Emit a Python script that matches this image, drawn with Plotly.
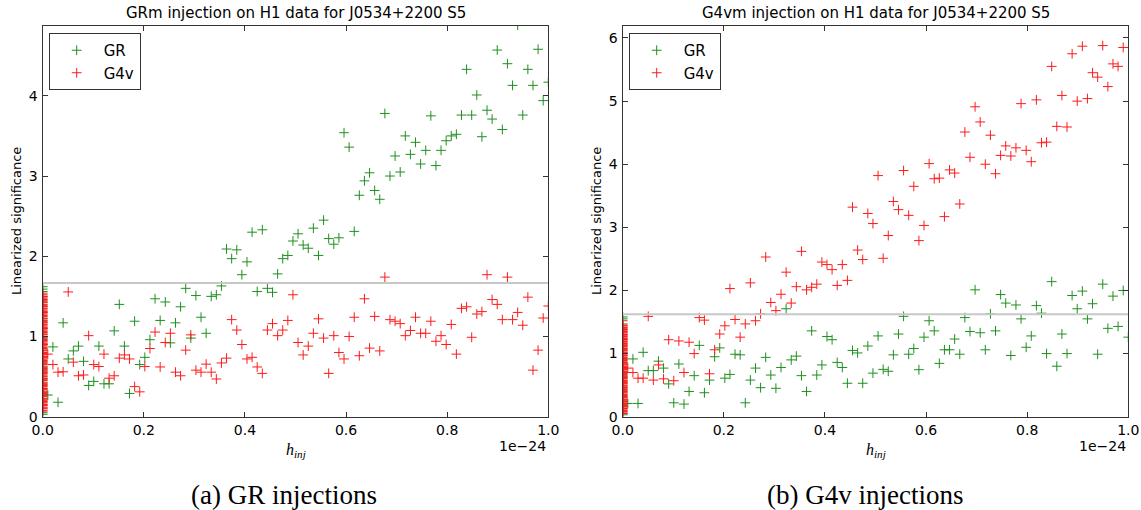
import plotly.graph_objects as go

# Injected amplitude h_inj in units of 1e-24: step k/99 for k = 1..N;
# noise-only runs sit at h_inj = 0.
N_STEPS = 99

# ---- (a) GR injections ----
gr_inj_gr = [0.27, 0.87, 0.18, 1.17, 0.72, 0.82, 0.88, 0.69, 0.39, 0.44,
             0.88, 0.41, 0.41, 1.07, 1.40, 0.88, 0.29, 1.19, 0.65, 0.74,
             0.96, 1.47, 1.20, 1.43, 0.92, 1.17, 1.37, 1.60, 0.98, 1.51,
             1.24, 1.04, 1.50, 1.52, 1.63, 2.09, 1.97, 2.08, 1.77, 1.93,
             2.30, 1.56, 2.33, 1.60, 1.55, 1.78, 1.97, 2.01, 2.19, 2.28,
             2.14, 2.10, 2.35, 2.01, 2.45, 2.22, 2.15, 2.23, 3.54, 3.36,
             2.31, 2.76, 2.94, 3.04, 2.82, 2.71, 3.78, 3.00, 3.25, 3.05,
             3.50, 3.27, 3.42, 3.15, 3.32, 3.75, 3.13, 3.32, 3.44, 3.50,
             3.52, 3.76, 4.33, 3.76, 4.01, 3.49, 3.82, 3.71, 4.57, 3.58,
             4.40, 4.13, 4.88, 3.76, 4.33, 4.13, 4.58, 3.94, 4.17]
gr_inj_g4v = [0.78, 0.65, 0.555, 0.56, 1.555, 0.68, 0.51, 0.52, 1.01, 0.65,
              0.625, 0.78, 0.48, 0.51, 0.73, 0.77, 0.72, 0.375, 0.31, 0.625,
              0.85, 1.055, 0.62, 0.925, 1.04, 0.555, 0.51, 0.83, 1.02, 0.58,
              0.555, 0.655, 0.555, 0.47, 0.67, 0.73, 1.21, 1.08, 0.90, 0.72,
              0.74, 0.62, 0.54, 1.08, 1.16, 1.01, 1.08, 1.20, 1.52, 0.925,
              0.77, 0.88, 1.04, 1.22, 0.98, 0.54, 1.01, 0.80, 0.72, 1.00,
              1.24, 0.76, 1.47, 0.855, 1.25, 0.82, 1.74, 1.21, 1.19, 1.16,
              1.01, 1.075, 1.24, 1.04, 1.04, 1.19, 0.94, 1.01, 0.90, 1.15,
              0.78, 1.35, 1.37, 0.99, 1.28, 1.31, 1.77, 1.46, 1.40, 1.21,
              1.74, 1.21, 1.30, 1.14, 1.49, 0.58, 0.83, 1.23, 1.38]
gr_noise_gr = [0.03, 0.05, 0.15, 0.22, 0.28, 0.35, 0.41, 0.48, 0.56, 0.61,
               0.69, 0.75, 0.83, 0.90, 0.96, 1.03, 1.10, 1.17, 1.22, 1.30,
               1.37, 1.43, 1.50, 1.56, 1.59, 1.62]
gr_noise_g4v = [0.07, 0.08, 0.10, 0.11, 0.12, 0.14, 0.15, 0.17, 0.18, 0.19,
                0.20, 0.22, 0.23, 0.25, 0.26, 0.27, 0.29, 0.30, 0.31, 0.32,
                0.34, 0.35, 0.37, 0.38, 0.39, 0.40, 0.42, 0.43, 0.45, 0.46,
                0.47, 0.48, 0.50, 0.51, 0.53, 0.54, 0.55, 0.57, 0.58, 0.59,
                0.60, 0.62, 0.63, 0.65, 0.66, 0.67, 0.68, 0.70, 0.71, 0.73,
                0.74, 0.75, 0.77, 0.78, 0.79, 0.80, 0.82, 0.83, 0.85, 0.86,
                0.87, 0.89, 0.90, 0.91, 0.92, 0.94, 0.95, 0.97, 0.98, 0.99,
                1.00, 1.02, 1.03, 1.05, 1.06, 1.07, 1.09, 1.10, 1.11, 1.12,
                1.14, 1.15, 1.17, 1.18, 1.19, 1.20, 1.22, 1.23, 1.25, 1.26,
                1.27, 1.29, 1.30, 1.31, 1.32, 1.34, 1.35, 1.37, 1.38, 1.39,
                1.40, 1.42, 1.43, 1.45, 1.46, 1.47, 1.49, 1.50, 1.52, 1.54]
gr_threshold = 1.667

# ---- (b) G4v injections ----
g4v_inj_gr = [0.21, 0.915, 0.21, 1.02, 0.73, 0.73, 0.88, 0.77, 0.52, 0.22,
              0.835, 0.20, 0.40, 0.65, 1.13, 0.38, 0.58, 0.95, 1.09, 0.61,
              0.67, 0.99, 0.98, 0.22, 0.58, 0.77, 0.46, 0.94, 0.66, 0.45,
              0.78, 1.71, 0.90, 0.96, 0.65, 0.40, 1.36, 0.66, 0.82, 1.27,
              1.22, 0.86, 0.78, 0.53, 1.05, 1.01, 0.53, 1.12, 0.69, 1.28,
              0.75, 0.72, 0.98, 1.31, 1.59, 0.99, 1.08, 0.745, 1.26, 1.52,
              1.36, 0.845, 1.06, 1.06, 1.23, 0.99, 1.57, 1.35, 2.01, 1.33,
              1.06, 1.63, 1.36, 1.935, 1.80, 0.97, 1.77, 1.55, 1.10, 1.28,
              1.76, 1.64, 1.00, 2.14, 0.80, 1.31, 1.00, 1.92, 1.71, 1.99,
              1.55, 1.79, 0.99, 2.10, 1.40, 1.91, 1.43, 2.00, 1.26]
g4v_inj_g4v = [0.77, 0.70, 0.61, 0.61, 1.59, 0.58, 0.82, 0.60, 1.22, 0.57,
               1.20, 0.70, 1.18, 1.00, 1.57, 1.53, 0.68, 1.06, 1.31, 1.44,
               2.03, 1.54, 1.26, 1.47, 2.12, 1.52, 1.63, 2.53, 1.81, 1.68,
               1.94, 2.29, 1.80, 2.06, 2.62, 2.01, 2.05, 2.10, 2.45, 2.41,
               2.33, 2.08, 2.41, 2.16, 3.32, 2.64, 2.49, 3.22, 3.06, 3.82,
               2.51, 2.87, 3.41, 3.28, 3.90, 3.19, 3.65, 2.79, 3.03, 4.01,
               3.77, 3.78, 3.17, 3.91, 3.86, 3.37, 4.51, 4.11, 4.91, 4.67,
               4.00, 4.46, 3.85, 4.14, 4.29, 4.13, 4.26, 4.96, 4.22, 4.04,
               5.02, 4.34, 4.35, 5.55, 4.60, 5.09, 4.59, 5.75, 5.00, 5.87,
               5.04, 5.45, 5.38, 5.88, 5.23, 5.59, 5.55, 5.85]
g4v_noise_gr = [0.03, 0.05, 0.18, 0.25, 0.33, 0.40, 0.47, 0.55, 0.62, 0.70,
                0.77, 0.85, 0.92, 1.00, 1.07, 1.15, 1.22, 1.30, 1.38, 1.47,
                1.55, 1.58]
g4v_noise_g4v = [0.05, 0.06, 0.08, 0.09, 0.10, 0.12, 0.13, 0.14, 0.16, 0.17,
                 0.19, 0.20, 0.21, 0.23, 0.24, 0.25, 0.27, 0.28, 0.30, 0.31,
                 0.32, 0.34, 0.35, 0.36, 0.38, 0.39, 0.41, 0.42, 0.43, 0.45,
                 0.46, 0.47, 0.49, 0.50, 0.52, 0.53, 0.54, 0.56, 0.57, 0.58,
                 0.60, 0.61, 0.63, 0.64, 0.65, 0.67, 0.68, 0.69, 0.71, 0.72,
                 0.74, 0.75, 0.76, 0.78, 0.79, 0.80, 0.82, 0.83, 0.85, 0.86,
                 0.87, 0.89, 0.90, 0.91, 0.93, 0.94, 0.96, 0.97, 0.98, 1.00,
                 1.01, 1.02, 1.04, 1.05, 1.07, 1.08, 1.09, 1.11, 1.12, 1.13,
                 1.15, 1.16, 1.18, 1.19, 1.20, 1.22, 1.23, 1.24, 1.26, 1.27,
                 1.29, 1.30, 1.31, 1.33, 1.34, 1.35, 1.37, 1.38, 1.40, 1.41,
                 1.42, 1.44, 1.45, 1.52]
g4v_threshold = 1.625

x_ticks = [0.0, 0.2, 0.4, 0.6, 0.8, 1.0]
x_tick_text = ["0.0", "0.2", "0.4", "0.6", "0.8", "1.0"]
y_ticks_a = [0, 1, 2, 3, 4]
y_ticks_b = [0, 1, 2, 3, 4, 5, 6]
y_top_a = 4.87
y_top_b = 6.19

panel_titles = ["GRm injection on H1 data for J0534+2200 S5",
                "G4vm injection on H1 data for J0534+2200 S5"]
captions = ["(a) GR injections", "(b) G4v injections"]

GREEN = "#1f8f1f"
RED = "#ff1a1a"
SANS = "DejaVu Sans"
W, H = 1141, 510


def column(inj, noise):
    """x/y for one template: noise-only runs at 0, then the injection ladder."""
    xs = [0.0] * len(noise) + [k / N_STEPS for k in range(1, len(inj) + 1)]
    ys = list(noise) + list(inj)
    return xs, ys


fig = go.Figure()

panels = [
    ("x", "y", "legend", gr_inj_gr, gr_noise_gr, gr_inj_g4v, gr_noise_g4v, gr_threshold),
    ("x2", "y2", "legend2", g4v_inj_gr, g4v_noise_gr, g4v_inj_g4v, g4v_noise_g4v, g4v_threshold),
]

for xa, ya, leg, inj_gr, noise_gr, inj_g4v, noise_g4v, thr in panels:
    for name, inj, noise, col in (("GR", inj_gr, noise_gr, GREEN),
                                  ("G4v", inj_g4v, noise_g4v, RED)):
        xs, ys = column(inj, noise)
        fig.add_trace(go.Scatter(
            x=xs, y=ys, mode="markers", name=name, legend=leg,
            xaxis=xa, yaxis=ya,
            marker=dict(symbol="cross-thin", size=7, color=col,
                        line=dict(color=col, width=1)),
        ))
    # detection threshold drawn over the points
    fig.add_trace(go.Scatter(
        x=[0, 1], y=[thr, thr], mode="lines", showlegend=False,
        xaxis=xa, yaxis=ya, hoverinfo="skip",
        line=dict(color="#c8c8c8", width=2),
    ))

# plot-area geometry in pixels
AX_A = (42.7, 548.3)
AX_B = (622.7, 1128.3)
AX_TOP, AX_BOT = 26.0, 416.7
yd = [1 - AX_BOT / H, 1 - AX_TOP / H]

axis_common = dict(
    showline=True, linecolor="#333333", linewidth=1.3, mirror="ticks",
    ticks="inside", ticklen=5, tickwidth=1, tickcolor="#333333",
    showgrid=False, zeroline=False, automargin=False,
    tickfont=dict(family=SANS, size=14, color="black"),
)

fig.update_layout(
    width=W, height=H, margin=dict(l=0, r=0, t=0, b=0),
    paper_bgcolor="white", plot_bgcolor="white",
    xaxis=dict(domain=[AX_A[0] / W, AX_A[1] / W], range=[0, 1],
               tickvals=x_ticks, ticktext=x_tick_text, anchor="y",
               ticklabelstandoff=0, **axis_common),
    yaxis=dict(domain=yd, range=[0, y_top_a], tickvals=y_ticks_a,
               anchor="x", ticklabelstandoff=1, **axis_common),
    xaxis2=dict(domain=[AX_B[0] / W, AX_B[1] / W], range=[0, 1],
                tickvals=x_ticks, ticktext=x_tick_text, anchor="y2",
                ticklabelstandoff=0, **axis_common),
    yaxis2=dict(domain=yd, range=[0, y_top_b], tickvals=y_ticks_b,
                anchor="x2", ticklabelstandoff=1, **axis_common),
    showlegend=True,
)

legend_style = dict(
    xanchor="left", yanchor="top", bgcolor="white",
    bordercolor="#333333", borderwidth=1,
    font=dict(family=SANS, size=15, color="black"),
    itemsizing="trace", tracegroupgap=0, itemwidth=44,
)
fig.update_layout(
    legend=dict(x=(AX_A[0] + 6) / W, y=1 - (AX_TOP + 7) / H, **legend_style),
    legend2=dict(x=(AX_B[0] + 6) / W, y=1 - (AX_TOP + 7) / H, **legend_style),
)


def px_annot(text, x, y, size, family=SANS, angle=0, xanchor="center"):
    fig.add_annotation(
        text=text, x=x / W, y=1 - y / H, xref="paper", yref="paper",
        showarrow=False, textangle=angle, xanchor=xanchor, yanchor="middle",
        font=dict(family=family, size=size, color="black"),
    )


for (x0, x1), title, cap, cap_x in ((AX_A, panel_titles[0], captions[0], 284),
                                     (AX_B, panel_titles[1], captions[1], 865)):
    mid = (x0 + x1) / 2
    px_annot(title, mid, 13, 15)
    px_annot("<i>h</i><sub><i>inj</i></sub>", mid, 450, 16, family="Liberation Serif")
    px_annot("1e\u221224", x1, 446, 14, xanchor="right")
    px_annot("Linearized significance", x0 - 26, (AX_TOP + AX_BOT) / 2, 13, angle=-90)
    px_annot(cap, cap_x, 495, 27, family="Liberation Serif")

fig.write_html("out.html")
